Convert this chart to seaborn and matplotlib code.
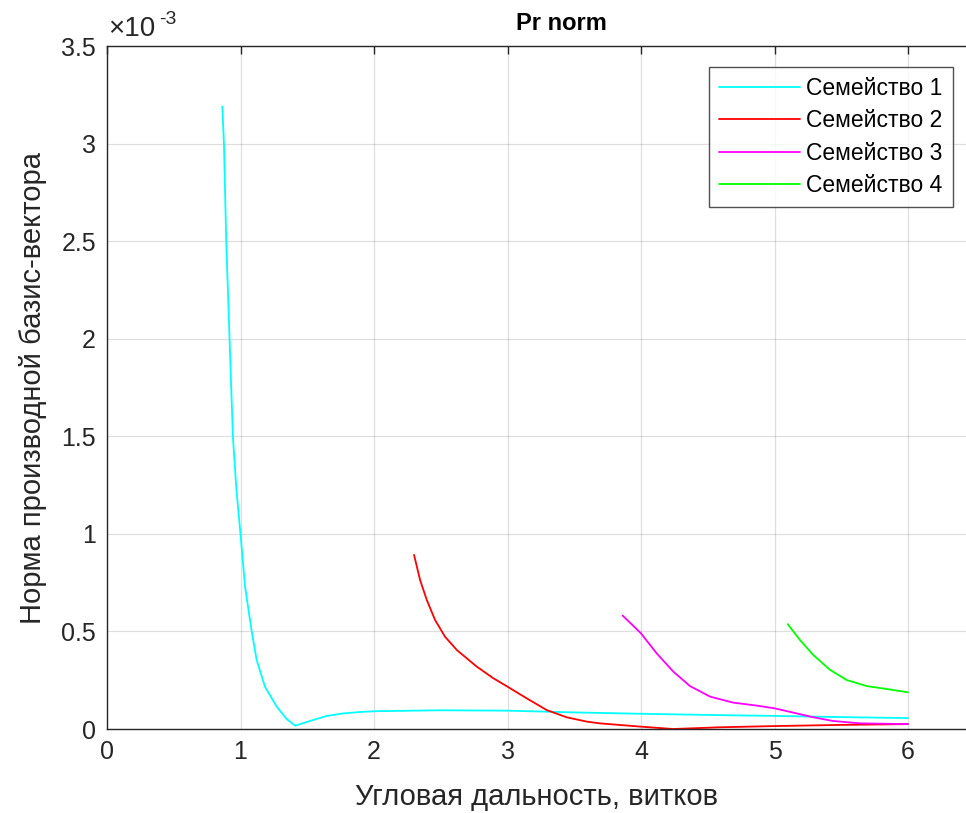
import numpy as np
import pandas as pd
import matplotlib
matplotlib.use("Agg")
import matplotlib.pyplot as plt
import seaborn as sns

# Data (y in units of 1e-3)
fam1_x = [0.864, 0.876, 0.893, 0.918, 0.943, 0.97, 1.0, 1.034, 1.084, 1.121, 1.183, 1.271,
          1.346, 1.41, 1.52, 1.646, 1.77, 1.895, 2.0, 2.5, 3.0, 3.5, 4.0, 4.5, 5.0, 5.5, 6.0]
fam1_y = [3.19, 3.0, 2.5, 2.0, 1.5, 1.22, 1.0, 0.73, 0.50, 0.354, 0.217, 0.115,
          0.051, 0.017, 0.041, 0.067, 0.080, 0.087, 0.091, 0.096, 0.094, 0.085, 0.078, 0.072, 0.067, 0.061, 0.056]
fam2_x = [2.30, 2.345, 2.395, 2.457, 2.532, 2.62, 2.769, 2.894, 3.0, 3.144, 3.294, 3.443,
          3.593, 3.69, 4.0, 4.24, 4.6, 5.0, 5.5, 6.0]
fam2_y = [0.892, 0.764, 0.662, 0.559, 0.473, 0.405, 0.32, 0.26, 0.217, 0.157, 0.097, 0.06,
          0.038, 0.029, 0.012, 0.0, 0.009, 0.015, 0.021, 0.025]
fam3_x = [3.863, 4.0, 4.117, 4.242, 4.367, 4.517, 4.692, 4.866, 5.0, 5.141, 5.291, 5.44, 5.64, 6.0]
fam3_y = [0.581, 0.49, 0.388, 0.294, 0.22, 0.166, 0.135, 0.12, 0.106, 0.084, 0.06, 0.041, 0.029, 0.025]
fam4_x = [5.099, 5.191, 5.291, 5.416, 5.541, 5.691, 5.84, 6.0]
fam4_y = [0.537, 0.456, 0.379, 0.303, 0.251, 0.22, 0.205, 0.188]

labels = ["Семейство 1", "Семейство 2", "Семейство 3", "Семейство 4"]
colors = ["#00FFFF", "#FF0000", "#FF00FF", "#00FF00"]
yticks = [0, 0.5, 1, 1.5, 2, 2.5, 3, 3.5]
ytick_labels = ["0", "0.5", "1", "1.5", "2", "2.5", "3", "3.5"]
xticks = [0, 1, 2, 3, 4, 5, 6]

frames = []
for lab, xs, ys in zip(labels, [fam1_x, fam2_x, fam3_x, fam4_x], [fam1_y, fam2_y, fam3_y, fam4_y]):
    frames.append(pd.DataFrame({"x": xs, "y": ys, "family": lab}))
df = pd.concat(frames, ignore_index=True)

sns.set_style("white")
plt.rcParams['font.family'] = ['Liberation Sans', 'DejaVu Sans']

fig = plt.figure(figsize=(9.66, 8.13), dpi=100)
ax = fig.add_axes([107/966, 84/813, 7*133.5/966, 683/813])

sns.lineplot(data=df, x="x", y="y", hue="family", palette=dict(zip(labels, colors)),
             estimator=None, sort=False, ax=ax, linewidth=1.3, legend=True)

axc = "#262626"
ax.set_xlim(0, 7)
ax.set_ylim(0, 3.5)
ax.set_xticks(xticks)
ax.set_yticks(yticks)
ax.set_yticklabels(ytick_labels)
ax.xaxis.set_minor_locator(matplotlib.ticker.FixedLocator([7]))
ax.grid(True, which="both", color="#000000", alpha=0.13, linewidth=0.9)
ax.set_axisbelow(True)
for s in ax.spines.values():
    s.set_color(axc)
    s.set_linewidth(1.0)
    s.set_visible(True)
ax.tick_params(axis="both", direction="in", length=6, width=1.0, colors=axc,
               labelsize=18, top=True, right=True, pad=8)
ax.tick_params(axis="x", which="minor", length=0)
ax.set_xlabel("")
fig.text(537/966, 1 - 797/813, "Угловая дальность, витков", fontsize=21, color=axc,
         ha="center", va="center")
ax.set_ylabel("Норма производной базис-вектора", fontsize=21, color=axc, labelpad=10)
fig.text(561/966, 1 - 23/813, "Pr norm", fontsize=17, fontweight="bold", color="black",
         ha="center", va="center")

fig.text(108/966, 1 - 36/813, "×10", fontsize=20, color=axc, ha="left", va="baseline")
fig.text(159/966, 1 - 24/813, "-3", fontsize=14, color=axc, ha="left", va="baseline")

leg = ax.legend(loc="upper left", bbox_to_anchor=((709-107)/(7*133.5), (729-67)/683),
                fontsize=16.5, frameon=True, fancybox=False, edgecolor=axc,
                handlelength=3.5, handletextpad=0.3, borderpad=0.45, labelspacing=0.4,
                borderaxespad=0)
leg.get_frame().set_linewidth(1.0)
for t in leg.get_texts():
    t.set_color("black")

fig.savefig("out.png", dpi=100, facecolor="white")
